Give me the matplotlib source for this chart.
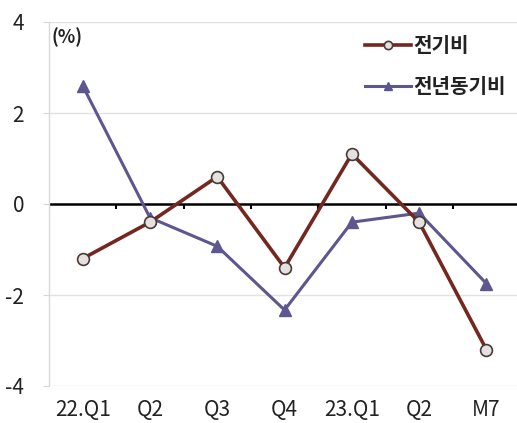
import matplotlib
matplotlib.use("Agg")
import matplotlib.pyplot as plt

plt.rcParams['font.family'] = ['Noto Sans CJK KR', 'DejaVu Sans']
plt.rcParams['axes.unicode_minus'] = False

categories = ["22.Q1", "Q2", "Q3", "Q4", "23.Q1", "Q2", "M7"]
qoq = [-1.2, -0.4, 0.6, -1.4, 1.1, -0.4, -3.2]        # 전기비
yoy = [2.6, -0.3, -0.93, -2.33, -0.4, -0.2, -1.75]    # 전년동기비
yticks = [-4, -2, 0, 2, 4]

W, H = 517, 423
fig = plt.figure(figsize=(W / 100, H / 100), dpi=100)
left, right, top, bottom = 49, 517, 22, 386
ax = fig.add_axes([left / W, 1 - bottom / H, (right - left) / W, (bottom - top) / H])

step = 67.3
x = list(range(len(categories)))
ax.set_xlim(-0.5, -0.5 + (right - left) / step)
ax.set_ylim(-4, 4)

brown = "#74271f"
purple = "#5d568f"

ax.plot(x, yoy, color=purple, lw=2.2, marker="^", ms=8, mfc=purple, mec=purple,
        label="전년동기비", zorder=3)
ax.plot(x, qoq, color=brown, lw=2.6, marker="o", ms=8.5, mfc="#e4e2e0", mec="#4a3a36",
        mew=1.2, label="전기비", zorder=4)

# grid and zero line
for yv in [-4, -2, 2, 4]:
    ax.axhline(yv, color="#e2e2e2", lw=1, zorder=0)
ax.axhline(0, color="black", lw=1.8, zorder=2)
for b in range(len(categories) + 1):
    ax.plot([b - 0.5, b - 0.5], [0, -0.12], color="black", lw=1.5, zorder=2,
            solid_capstyle="butt")

for s in ["top", "right", "bottom"]:
    ax.spines[s].set_visible(False)
ax.spines["left"].set_color("#d8d8d8")
ax.spines["left"].set_linewidth(1)

ax.set_yticks(yticks)
ax.set_yticklabels([str(v) for v in yticks])
ax.set_xticks(x)
ax.set_xticklabels(categories)
ax.tick_params(axis="y", length=4, color="#d8d8d8", pad=14, labelsize=15, labelcolor="#222222")
ax.tick_params(axis="x", length=0, pad=9, labelsize=15, labelcolor="#222222")

ax.text(0.005, 0.985, "(%)", transform=ax.transAxes, ha="left", va="top",
        fontsize=13, color="#222222", fontweight="bold")

handles, labels = ax.get_legend_handles_labels()
leg = ax.legend(handles[::-1], labels[::-1], loc="upper right",
                bbox_to_anchor=(1.015, 1.015), frameon=False, fontsize=14.5,
                handlelength=2.3, handletextpad=0.1, labelspacing=1.0,
                markerscale=0.7)
for t in leg.get_texts():
    t.set_fontweight("bold")
    t.set_color("#222222")

fig.savefig("out.png", dpi=100)
